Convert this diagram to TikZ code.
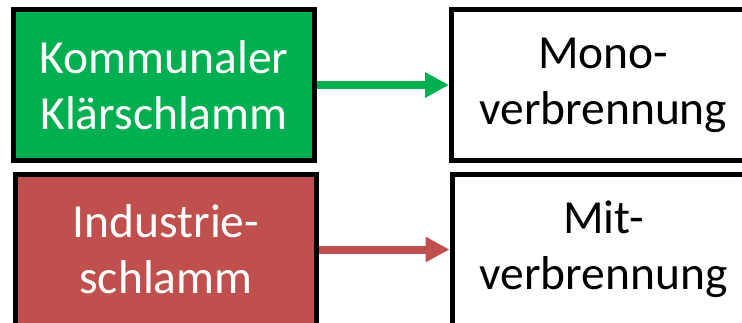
\documentclass[tikz,border=0pt]{standalone}
\usepackage{fontspec}
\setmainfont{Carlito}
\usetikzlibrary{arrows.meta}
\definecolor{offgreen}{HTML}{00B050}
\definecolor{offred}{HTML}{C0504D}
\begin{document}
\begin{tikzpicture}[x=1pt,y=-1pt,
  box/.style={draw=black,line width=5pt,inner sep=0pt,align=center,
    minimum height=151pt,font=\fontsize{47.5}{56}\selectfont},
  conn/.style={line width=8pt,-{Triangle[length=24pt,width=24pt]}}]
\useasboundingbox (0,0) rectangle (742,322);
\clip (0,0) rectangle (742,322);
\node[box,fill=offgreen,text=white,minimum width=301pt] (k) at (164,85) {Kommunaler\\Klärschlamm};
\node[box,fill=white,text=black,minimum width=303.5pt] (m) at (603.25,85) {Mono-\\verbrennung};
\node[box,fill=offred,text=white,minimum width=301pt] (i) at (166,249.5) {Industrie-\\schlamm};
\node[box,fill=white,text=black,minimum width=303pt] (t) at (603.5,249.5) {Mit-\\verbrennung};
\draw[conn,offgreen] (k.east) -- (m.west);
\draw[conn,offred] (i.east) -- (t.west);
\end{tikzpicture}
\end{document}
